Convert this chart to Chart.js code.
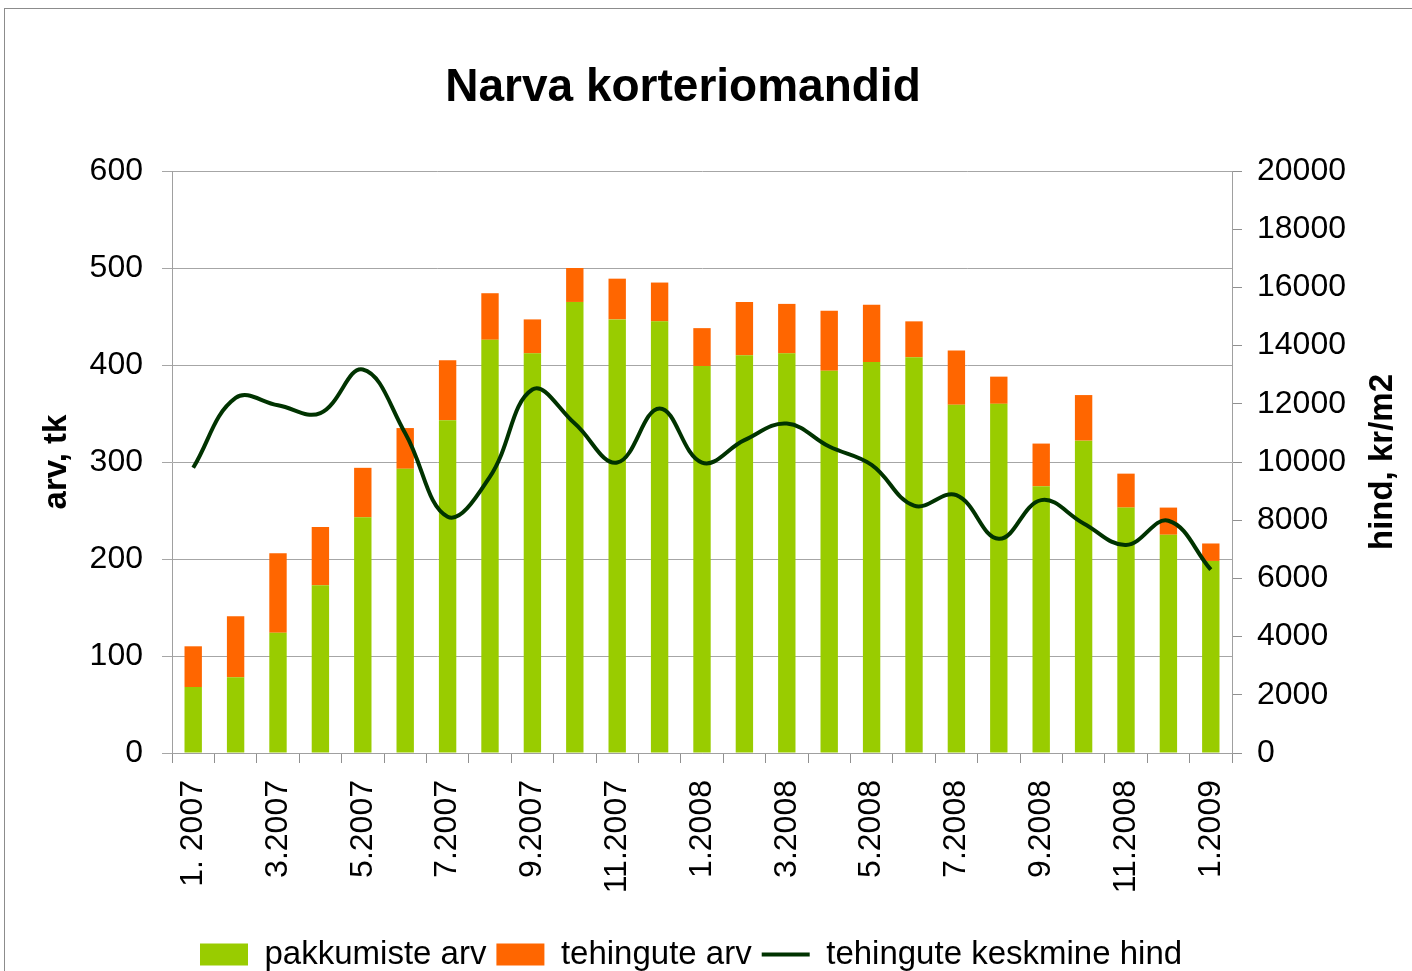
<!DOCTYPE html>
<html>
<head>
<meta charset="utf-8">
<script src="https://cdn.jsdelivr.net/npm/chart.js@4/dist/chart.umd.min.js"></script>
<style>
  html, body { margin: 0; padding: 0; background: #fff; overflow: hidden; }
  #wrap { position: relative; width: 1412px; height: 971px; overflow: hidden; }
  #frame { position: absolute; left: 4px; top: 8px; width: 1500px; height: 1100px; border: 1px solid #8c8c8c; box-sizing: border-box; }
  #myChart { position: absolute; left: 0; top: 0; width: 1412px; height: 981px; }
</style>
</head>
<body>
<div id="wrap">
  <div id="frame"></div>
  <canvas id="myChart" width="1412" height="981"></canvas>
</div>
<script>
// kuud
var months = ['1. 2007','2.2007','3.2007','4.2007','5.2007','6.2007','7.2007','8.2007','9.2007','10.2007','11.2007','12.2007',
              '1.2008','2.2008','3.2008','4.2008','5.2008','6.2008','7.2008','8.2008','9.2008','10.2008','11.2008','12.2008','1.2009'];

var pakkumised = [68, 78, 124, 173, 243, 293, 343, 426, 412, 465, 447, 445,
                  399, 410, 412, 394, 403, 408, 359, 360, 275, 322, 253, 225, 198];

var tehingud = [42, 63, 82, 60, 51, 42, 62, 48, 35, 35, 42, 40,
                39, 55, 51, 62, 59, 37, 56, 28, 44, 47, 35, 28, 18];

var hind = [9800, 12200, 11950, 11680, 13180, 10990, 8120, 9500, 12490, 11320, 9980, 11840,
            9980, 10750, 11320, 10530, 9900, 8500, 8860, 7360, 8690, 7890, 7150, 7980, 6300];

var leftTicks = [0, 100, 200, 300, 400, 500, 600];
var rightTicks = [0, 2000, 4000, 6000, 8000, 10000, 12000, 14000, 16000, 18000, 20000];

var fam = '"Liberation Sans", Arial, sans-serif';

// pealkiri ja parema telje pealkiri (loetakse alt üles nagu Excelis)
var extraText = {
	id: 'extraText',
	beforeDraw: function(chart) {
		// legend algab samast kohast kui originaalis
		chart.legend.left = 190;
		chart.legend.right = chart.width;
	},
	afterDraw: function(chart) {
		var c = chart.ctx;
		var a = chart.chartArea;
		c.save();
		c.fillStyle = '#000';
		c.textAlign = 'center';
		c.textBaseline = 'middle';
		c.font = 'bold 46px ' + fam;
		c.fillText('Narva korteriomandid', 683, 88);
		c.translate(1383, (a.top + a.bottom) / 2);
		c.rotate(-Math.PI / 2);
		c.font = 'bold 33px ' + fam;
		c.fillText('hind, kr/m2', 0, 0);
		c.restore();
	}
};

var ctx = document.getElementById('myChart').getContext('2d');
window.chart = new Chart(ctx, {
	type: 'bar',
	data: {
		labels: months,
		datasets: [{
			label: 'pakkumiste arv',
			data: pakkumised,
			backgroundColor: '#99cc00',
			yAxisID: 'y',
			order: 1,
			barPercentage: 0.41,
			categoryPercentage: 1
		}, {
			label: 'tehingute arv',
			data: tehingud,
			backgroundColor: '#ff6600',
			yAxisID: 'y',
			order: 2,
			barPercentage: 0.41,
			categoryPercentage: 1
		}, {
			type: 'line',
			label: 'tehingute keskmine hind',
			data: hind,
			borderColor: '#003300',
			backgroundColor: '#003300',
			borderWidth: 4,
			pointRadius: 0,
			tension: 0.4,
			yAxisID: 'y1',
			order: 0
		}]
	},
	options: {
		responsive: false,
		maintainAspectRatio: false,
		animation: false,
		devicePixelRatio: 1,
		layout: { padding: { top: 171 } },
		plugins: {
			tooltip: { enabled: false },
			title: { display: false },
			legend: {
				position: 'bottom',
				align: 'start',
				labels: {
					color: '#000',
					font: { family: fam, size: 33 },
					usePointStyle: true,
					pointStyleWidth: 48,
					boxHeight: 22,
					padding: 10,
					generateLabels: function(ch) {
						return ch.data.datasets.map(function(ds, i) {
							var isLine = ds.type === 'line';
							return {
								text: ds.label,
								fillStyle: isLine ? ds.borderColor : ds.backgroundColor,
								strokeStyle: isLine ? ds.borderColor : ds.backgroundColor,
								lineWidth: isLine ? 4 : 0,
								pointStyle: isLine ? 'line' : 'rect',
								fontColor: '#000',
								datasetIndex: i,
								hidden: false
							};
						});
					}
				}
			}
		},
		scales: {
			x: {
				stacked: true,
				grid: { display: true, drawOnChartArea: false, color: '#909090', tickLength: 10, offset: true },
				border: { color: '#a0a0a0' },
				ticks: {
					autoSkip: false,
					maxRotation: 90,
					minRotation: 90,
					padding: 17,
					color: '#000',
					font: { family: fam, size: 32 },
					callback: function(v, i) { return i % 2 === 0 ? months[i] : ''; }
				},
				afterFit: function(s) { s.height = 175; }
			},
			y: {
				stacked: true,
				position: 'left',
				min: 0,
				max: 600,
				afterBuildTicks: function(s) { s.ticks = leftTicks.map(function(v) { return { value: v }; }); },
				grid: { color: '#a6a6a6', lineWidth: 1, tickLength: 10 },
				border: { color: '#a0a0a0' },
				ticks: { color: '#000', padding: 19, font: { family: fam, size: 32 } },
				title: {
					display: true,
					text: 'arv, tk',
					color: '#000',
					font: { family: fam, size: 33, weight: 'bold' },
					padding: { top: 37 }
				},
				afterFit: function(s) { s.width = 172; }
			},
			y1: {
				position: 'right',
				min: 0,
				max: 20000,
				afterBuildTicks: function(s) { s.ticks = rightTicks.map(function(v) { return { value: v }; }); },
				grid: { drawOnChartArea: false, color: '#909090', tickLength: 10 },
				border: { color: '#a0a0a0' },
				ticks: {
					color: '#000',
					padding: 15,
					font: { family: fam, size: 32 },
					callback: function(v) { return String(v); }
				},
				afterFit: function(s) { s.width = 180; }
			}
		}
	},
	plugins: [extraText]
});
</script>
</body>
</html>
